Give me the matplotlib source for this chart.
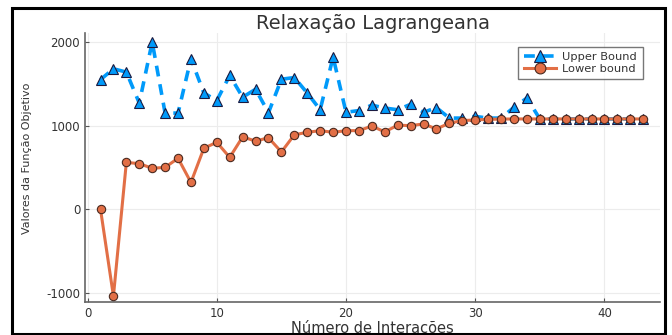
import matplotlib
matplotlib.use("Agg")
import matplotlib.pyplot as plt
from matplotlib.patches import Rectangle

plt.rcParams["axes.unicode_minus"] = False

# Iterations of the Lagrangean relaxation
iterations = list(range(1, 44))

upper_bound = [1550, 1680, 1640, 1270, 2000, 1150, 1150, 1800, 1390, 1300,
               1600, 1340, 1435, 1155, 1555, 1575, 1390, 1190, 1820, 1160,
               1180, 1245, 1210, 1190, 1255, 1160, 1215, 1090, 1090, 1110,
               1090, 1090, 1220, 1330, 1080, 1080, 1080, 1080, 1080, 1080,
               1080, 1080, 1080]

lower_bound = [0, -1040, 560, 545, 490, 500, 610, 320, 730, 800,
               620, 865, 815, 855, 685, 890, 920, 940, 920, 940,
               940, 995, 925, 1005, 1000, 1020, 960, 1030, 1060, 1068,
               1075, 1078, 1080, 1080, 1080, 1080, 1080, 1080, 1080, 1080,
               1080, 1080, 1080]

x_ticks = [0, 10, 20, 30, 40]
y_ticks = [-1000, 0, 1000, 2000]

blue = "#009AFA"
orange = "#E26F46"
text_col = "#333333"

fig = plt.figure(figsize=(6.72, 3.35), dpi=100)
ax = fig.add_axes([85 / 672, 1 - 302 / 335, (660 - 85) / 672, (302 - 33) / 335])

ax.plot(iterations, upper_bound, color=blue, lw=2.6, ls=(0, (3, 2.2)),
        marker="^", ms=6.5, mfc=blue, mec="#1a1a40", mew=0.8,
        label="Upper Bound", zorder=3)
ax.plot(iterations, lower_bound, color=orange, lw=2.2, ls="-",
        marker="o", ms=6, mfc=orange, mec="#4a2a20", mew=0.8,
        label="Lower bound", zorder=3)

ax.set_xlim(-0.2, 44.3)
ax.set_ylim(-1110, 2108)
ax.set_xticks(x_ticks)
ax.set_yticks(y_ticks)
ax.tick_params(direction="in", length=3, width=0.8, colors="#555555",
               labelsize=8.5, labelcolor=text_col)
ax.grid(True, color="#ececec", lw=0.8)
ax.set_axisbelow(True)

for side in ("top", "right"):
    ax.spines[side].set_visible(False)
for side in ("left", "bottom"):
    ax.spines[side].set_color("#666666")
    ax.spines[side].set_linewidth(1.2)

ax.set_title("Relaxação Lagrangeana", fontsize=14, color=text_col, pad=3)
ax.set_xlabel("Número de Interações", fontsize=10.5, color=text_col, labelpad=0)
ax.set_ylabel("Valores da Função Objetivo", fontsize=8, color=text_col)
ax.yaxis.set_label_coords(-0.092, 0.535)

leg = ax.legend(loc="upper right", bbox_to_anchor=(0.98, 0.97), fontsize=8.2,
                frameon=True, fancybox=False, edgecolor="#555555",
                handlelength=2.8, borderpad=0.5, labelspacing=0.1,
                handletextpad=0.6, markerscale=1.3)
leg.get_frame().set_linewidth(1.0)
for t in leg.get_texts():
    t.set_color(text_col)

# Black frame around the figure
fig.patches.append(Rectangle((12 / 672, 0.002), (665 - 12) / 672, 1 - 8 / 335 - 0.002,
                             transform=fig.transFigure, fill=False,
                             edgecolor="black", lw=2.2))

fig.savefig("out.png", dpi=100, facecolor="white")
